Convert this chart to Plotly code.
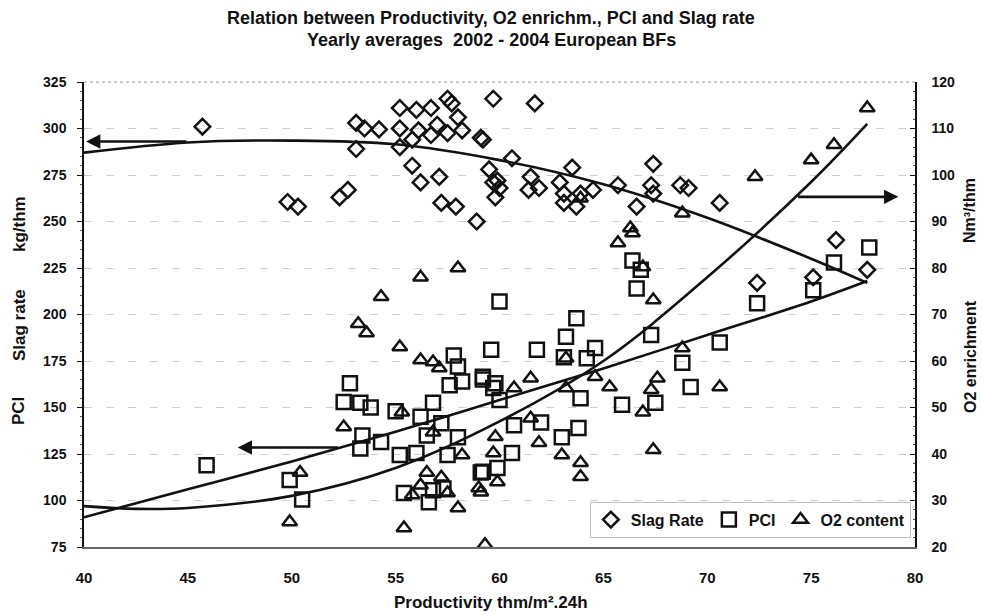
import plotly.graph_objects as go

# ---------------- data ----------------
slag_x = [45.7, 53.1, 53.5, 54.2, 53.1, 55.2, 55.2, 56.0, 56.7, 57.5, 57.7, 58.0, 56.1, 56.7, 57.0,
          57.5, 58.2, 55.2, 55.8, 59.7, 59.1, 55.8, 56.2, 57.1, 57.2, 57.9, 58.9, 49.8, 50.3, 52.3,
          52.7, 59.5, 59.7, 59.8, 59.9, 60.0, 61.7, 59.2, 60.6, 61.5, 61.4, 61.9, 62.9, 63.5, 63.1,
          63.1, 63.7, 63.9, 64.5, 65.7, 67.4, 67.3, 67.4, 68.7, 69.1, 70.6, 76.2, 75.1, 77.7, 72.4,
          66.6]
slag_y = [301, 303, 300, 299.5, 289, 311, 300, 310, 311, 316, 313.5, 306, 299, 296.5, 302,
          297.5, 299, 290, 294, 316, 295, 280, 271, 274, 260, 258, 250, 260.5, 258, 263,
          267, 278, 271, 263, 272, 268, 313.5, 294, 284, 274, 267, 268, 271, 279, 265,
          260, 258, 265, 267, 269.5, 281, 269.5, 265, 269.5, 268, 260, 240, 220, 224, 217,
          258]

pci_x = [45.9, 52.8, 52.5, 53.3, 53.8, 53.4, 53.3, 54.3, 49.9, 50.5, 57.8, 58.0, 59.6, 57.6, 58.2,
         59.2, 59.8, 56.8, 56.2, 57.2, 58.0, 57.5, 55.2, 56.0, 59.1, 55.4, 56.6, 56.8, 57.3, 60.0,
         63.7, 63.2, 61.8, 63.1, 64.6, 64.2, 67.3, 70.6, 68.8, 69.2, 65.9, 67.5, 63.9, 59.2, 59.7,
         60.0, 60.7, 62.0, 63.8, 63.0, 60.6, 59.2, 59.9, 77.8, 76.1, 75.1, 72.4, 66.4, 66.8, 66.6,
         55.0, 56.5]
pci_y = [119, 163, 153, 152.5, 150, 135, 128, 131.5, 111, 100.5, 178, 172, 181, 162, 164,
         166.5, 163, 152.5, 145, 141.5, 134, 124.5, 124.5, 125.5, 115, 104, 99, 105.5, 106.5, 207,
         198, 188, 181, 177, 182, 176.5, 189, 185, 174, 161, 151.5, 152.5, 155, 165, 160.5,
         154, 140.5, 142, 139, 134, 125.5, 115.5, 117.5, 236, 228, 213, 206, 229, 224, 214,
         148, 135]

o2_x = [54.3, 56.2, 58.0, 53.2, 53.6, 55.2, 56.2, 56.8, 57.1, 52.5, 55.3, 56.8, 58.2, 50.4, 56.5,
        57.2, 56.2, 55.8, 57.5, 58.0, 49.9, 55.4, 59.3, 59.0, 61.5, 60.7, 63.2, 63.2, 64.6, 65.3,
        67.6, 67.3, 66.9, 68.8, 70.6, 67.4, 61.5, 59.8, 59.7, 61.9, 63.0, 63.9, 63.9, 59.9, 59.1,
        77.7, 76.1, 75.0, 72.3, 65.7, 66.3, 66.4, 66.9, 67.4, 68.8, 63.9]
o2_y = [73.8, 78, 80, 68, 66, 63, 60.2, 59.8, 58.5, 45.8, 49, 44.7, 39.8, 36, 36,
        35, 33.3, 31.2, 31.6, 28.4, 25.4, 24.1, 20.5, 32.7, 56.3, 54.2, 60.6, 54.2, 56.6, 54.4,
        56.3, 53.8, 49, 62.8, 54.4, 40.9, 47.7, 43.7, 40.2, 42.4, 39.8, 38.1, 35.1, 34, 31.8,
        114.4, 106.5, 103.2, 99.6, 85.4, 88.6, 87.5, 80.2, 73.1, 91.8, 95]

# trend curves
slag_fit_x = [40, 45, 50, 55, 60, 65, 70, 75, 77.7]
slag_fit_y = [287, 292.5, 293.5, 291.5, 283, 270, 252, 230, 217]
pci_fit_x = [40, 45, 50, 55, 60, 65, 70, 75, 77.7]
pci_fit_y = [91, 106, 121, 137, 154, 171, 189, 207, 218]
o2_fit_x = [40, 42.5, 45, 50, 55, 60, 65, 70, 75, 77.7]
o2_fit_y = [28.8, 28.2, 28.4, 31, 37, 47, 60, 78, 98.5, 111]

# arrows: (tail x, head x, y)
slag_arrow = (45.0, 40.1, 293)
pci_arrow = (52.3, 47.4, 128.5)
o2_arrow = (74.3, 79.2, 95.3)

x_ticks = [40, 45, 50, 55, 60, 65, 70, 75, 80]
left_ticks = [75, 100, 125, 150, 175, 200, 225, 250, 275, 300, 325]
right_ticks = [20, 30, 40, 50, 60, 70, 80, 90, 100, 110, 120]

FONT = "Liberation Sans"
BLACK = "#111111"

fig = go.Figure()

mk_line = dict(color=BLACK, width=2.5)
fig.add_trace(go.Scatter(x=slag_x, y=slag_y, mode="markers", name="Slag Rate",
                         marker=dict(symbol="diamond-open", size=12, color=BLACK, line=mk_line)))
fig.add_trace(go.Scatter(x=pci_x, y=pci_y, mode="markers", name="PCI",
                         marker=dict(symbol="square-open", size=14, color=BLACK, line=mk_line)))
fig.add_trace(go.Scatter(x=o2_x, y=o2_y, mode="markers", name="O2 content", yaxis="y2",
                         marker=dict(symbol="triangle-up-open", size=13, color=BLACK, line=mk_line)))

fit_line = dict(color=BLACK, width=2.6, shape="spline", smoothing=1.0)
fig.add_trace(go.Scatter(x=slag_fit_x, y=slag_fit_y, mode="lines", line=fit_line,
                         showlegend=False, hoverinfo="skip"))
fig.add_trace(go.Scatter(x=pci_fit_x, y=pci_fit_y, mode="lines", line=fit_line,
                         showlegend=False, hoverinfo="skip"))
fig.add_trace(go.Scatter(x=o2_fit_x, y=o2_fit_y, mode="lines", line=fit_line, yaxis="y2",
                         showlegend=False, hoverinfo="skip"))

arrow_style = dict(showarrow=True, arrowhead=2, arrowsize=1.1, arrowwidth=2.6,
                   arrowcolor=BLACK, text="", axref="x")
fig.add_annotation(x=slag_arrow[1], y=slag_arrow[2], ax=slag_arrow[0], ay=slag_arrow[2],
                   xref="x", yref="y", ayref="y", **arrow_style)
fig.add_annotation(x=pci_arrow[1], y=pci_arrow[2], ax=pci_arrow[0], ay=pci_arrow[2],
                   xref="x", yref="y", ayref="y", **arrow_style)
fig.add_annotation(x=o2_arrow[1], y=o2_arrow[2], ax=o2_arrow[0], ay=o2_arrow[2],
                   xref="x", yref="y2", ayref="y2", **arrow_style)


def label(text, x, y, size, angle=0):
    fig.add_annotation(text=text, x=x, y=y, xref="paper", yref="paper", showarrow=False,
                       xanchor="center", yanchor="middle", textangle=angle,
                       font=dict(family=FONT, size=size, color=BLACK, weight="bold"))


# titles
label("Relation between Productivity, O2 enrichm., PCI and Slag rate", 0.49, 1.138, 18)
label("Yearly averages\u00a0\u00a02002 - 2004 European BFs", 0.49, 1.090, 18)
label("Productivity thm/m\u00b2.24h", 0.49, -0.12, 17)
# left axis title pieces
label("PCI", -0.0782, 0.2925, 17, -90)
label("Slag rate", -0.0782, 0.4774, 17, -90)
label("kg/thm", -0.0782, 0.6946, 17, -90)
# right axis title pieces
label("O2 enrichment", 1.0662, 0.4086, 16, -90)
label("Nm\u00b3/thm", 1.0662, 0.7226, 16, -90)

# dotted top frame
fig.add_shape(type="line", xref="paper", yref="paper", x0=0, x1=1, y0=1, y1=1,
              line=dict(color="#9a9a9a", width=1, dash="dot"))

fig.update_layout(
    width=983, height=615,
    margin=dict(l=84, r=68, t=82, b=68),
    paper_bgcolor="white", plot_bgcolor="white",
    font=dict(family=FONT, color=BLACK),
    xaxis=dict(range=[40, 80], tickvals=x_ticks, showgrid=False, zeroline=False,
               showline=True, linecolor="#666666", linewidth=1.5, ticks="",
               ticklabelstandoff=16,
               tickfont=dict(family=FONT, size=15, color=BLACK, weight="bold")),
    yaxis=dict(range=[75, 325], tickvals=left_ticks, showgrid=True, gridcolor="#cfcfcf",
               griddash="8px,14px", gridwidth=1, zeroline=False, showline=True,
               linecolor=BLACK, linewidth=1.5, ticks="outside", ticklen=5, tickcolor=BLACK,
               minor=dict(ticks="outside", ticklen=2, dtick=5, tickcolor="#555555"),
               ticklabelstandoff=8,
               tickfont=dict(family=FONT, size=14, color=BLACK, weight="bold")),
    yaxis2=dict(range=[20, 120], tickvals=right_ticks, overlaying="y", side="right",
                showgrid=False, zeroline=False, showline=True, linecolor=BLACK, linewidth=1.5,
                ticks="inside", ticklen=5, tickcolor=BLACK,
                minor=dict(ticks="inside", ticklen=2, dtick=2, tickcolor="#555555"),
                ticklabelstandoff=12,
                tickfont=dict(family=FONT, size=14, color=BLACK, weight="bold")),
    legend=dict(orientation="h", x=0.995, xanchor="right", y=0.02, yanchor="bottom",
                bgcolor="white", bordercolor="#c0c0c0", borderwidth=1,
                font=dict(family=FONT, size=16, color=BLACK, weight="bold"),
                itemwidth=30, tracegroupgap=0),
    showlegend=True,
)

fig.write_html("out.html")
